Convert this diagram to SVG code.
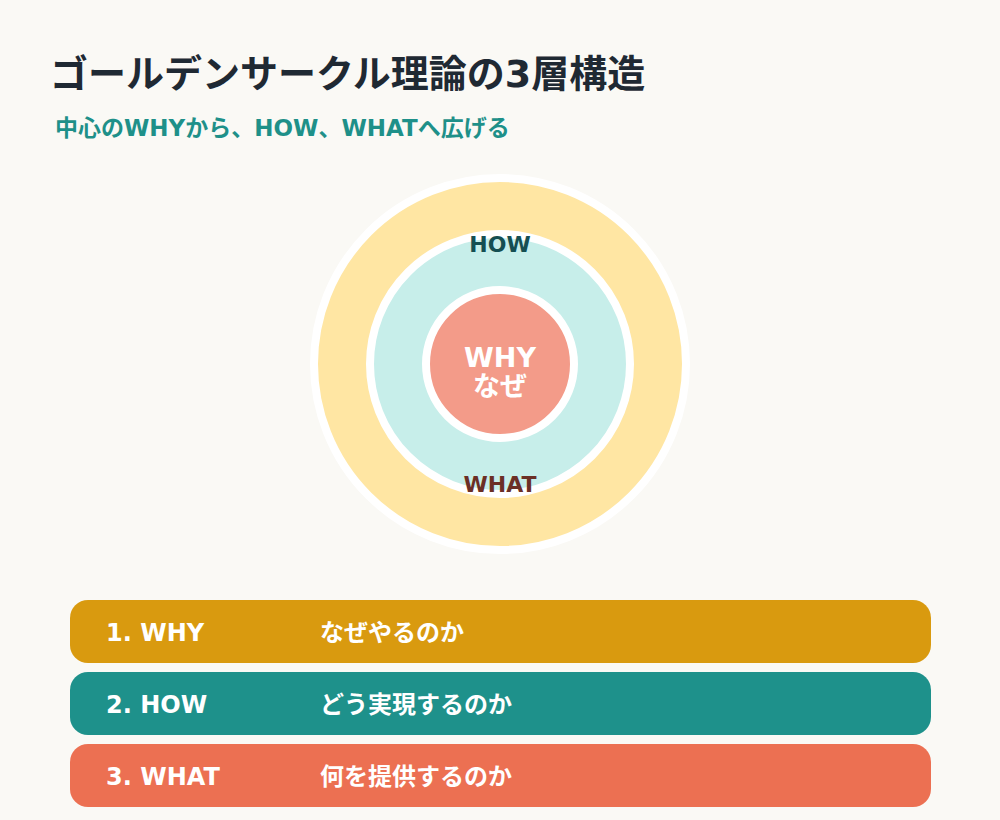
<svg xmlns="http://www.w3.org/2000/svg" width="1000" height="820" viewBox="0 0 1000 820">
<style>
text{font-family:"DejaVu Sans","Noto Sans CJK JP",sans-serif;font-weight:bold}
.ring{stroke:#fff;stroke-width:8}
.bar text{fill:#fff;font-size:24px}
</style>
<rect width="1000" height="820" fill="#faf9f5"/>
<text x="50" y="87" font-size="38" fill="#1f2933">ゴールデンサークル理論の3層構造</text>
<text x="55" y="136" font-size="23" fill="#1e9089">中心のWHYから、HOW、WHATへ広げる</text>
<g id="what-circle"><circle class="ring" cx="500" cy="364" r="186" fill="#ffe6a3"/></g>
<g id="how-circle"><circle class="ring" cx="500" cy="364" r="130" fill="#c7eeea"/></g>
<g id="why-circle"><circle class="ring" cx="500" cy="364" r="74" fill="#f39b89"/><text x="500" y="367" font-size="27" text-anchor="middle" fill="#fff">WHY</text><text x="500" y="396" font-size="27" text-anchor="middle" fill="#fff">なぜ</text></g>
<g id="how-label"><text x="500" y="252" font-size="22" text-anchor="middle" fill="#154f52">HOW</text></g>
<g id="what-label"><text x="500" y="492" font-size="22" text-anchor="middle" fill="#6b2f25">WHAT</text></g>
<g id="bar1" class="bar"><rect x="70" y="600" width="861" height="63" rx="18" fill="#d99a0f"/><text x="106" y="641">1. WHY</text><text x="320" y="641">なぜやるのか</text></g>
<g id="bar2" class="bar"><rect x="70" y="672" width="861" height="63" rx="18" fill="#1e918b"/><text x="106" y="713">2. HOW</text><text x="320" y="713">どう実現するのか</text></g>
<g id="bar3" class="bar"><rect x="70" y="744" width="861" height="63" rx="18" fill="#ec7052"/><text x="106" y="785">3. WHAT</text><text x="320" y="785">何を提供するのか</text></g>
<g id="connectors"/>
</svg>
